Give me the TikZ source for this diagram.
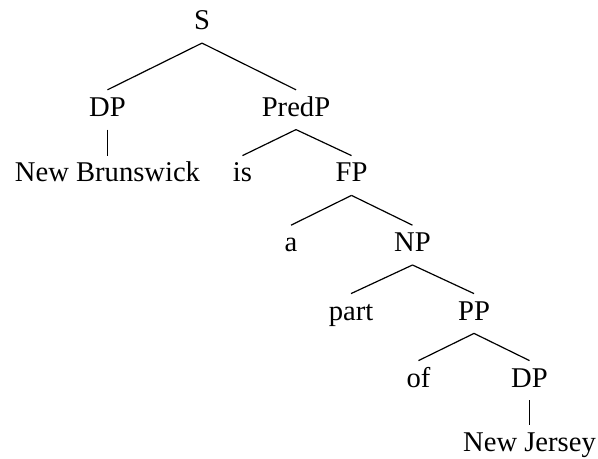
\documentclass[tikz,border=0pt]{standalone}
\usepackage{fontspec}
\setmainfont{Liberation Serif}
\begin{document}
\begin{tikzpicture}[x=0.5pt,y=-0.5pt,
  lbl/.style={anchor=base,inner xsep=0pt,inner ysep=3.5pt,text height=9.5pt,text depth=3pt,font=\fontsize{14.3pt}{17pt}\selectfont},
  edge/.style={draw,line width=0.6pt}]
\useasboundingbox (0,0) rectangle (598,459);
\node[lbl] (S) at (202,29.7) {S};
\node[lbl] (DP1) at (107.5,116.2) {DP};
\node[lbl] (PredP) at (296,116.2) {PredP};
\node[lbl] (NB) at (107.5,182) {New Brunswick};
\node[lbl] (is) at (242.5,182) {is};
\node[lbl] (FP) at (351.5,182) {FP};
\node[lbl] (a) at (291,251.6) {a};
\node[lbl] (NP) at (412.5,251.6) {NP};
\node[lbl] (part) at (351,320) {part};
\node[lbl] (PP) at (474,320) {PP};
\node[lbl] (of) at (418.5,387) {of};
\node[lbl] (DP2) at (529.5,387) {DP};
\node[lbl] (NJ) at (529.5,451.7) {New Jersey};
\path[edge] (S.south) -- (DP1.north);
\path[edge] (S.south) -- (PredP.north);
\path[edge] (DP1.south) -- (NB.north);
\path[edge] (PredP.south) -- (is.north);
\path[edge] (PredP.south) -- (FP.north);
\path[edge] (FP.south) -- (a.north);
\path[edge] (FP.south) -- (NP.north);
\path[edge] (NP.south) -- (part.north);
\path[edge] (NP.south) -- (PP.north);
\path[edge] (PP.south) -- (of.north);
\path[edge] (PP.south) -- (DP2.north);
\path[edge] (DP2.south) -- (NJ.north);
\end{tikzpicture}
\end{document}
